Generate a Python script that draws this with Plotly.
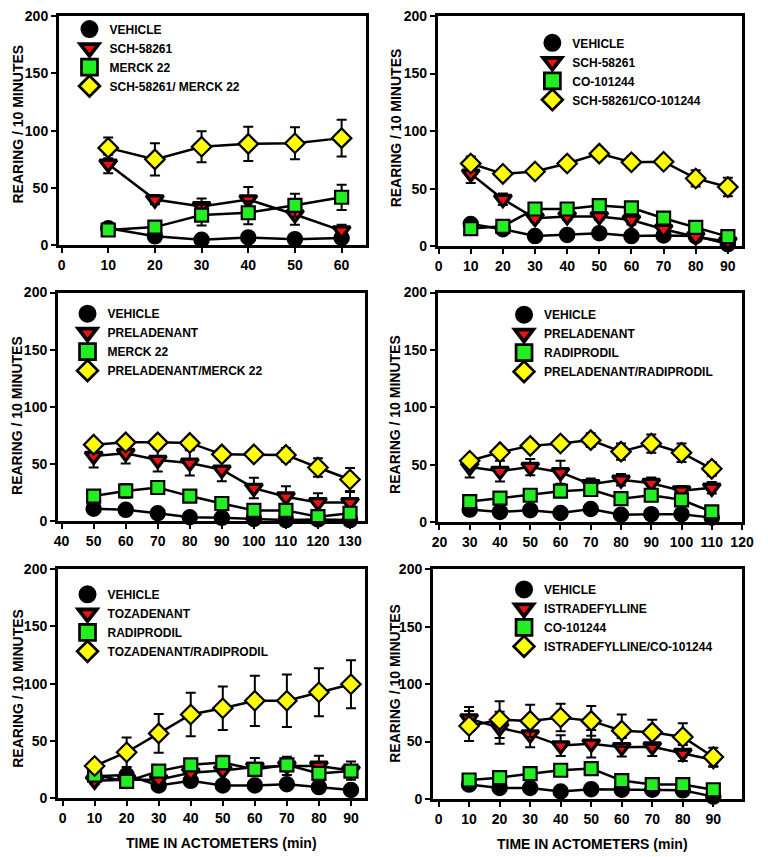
import plotly.graph_objects as go

W, H = 768, 857

# ---------------- DATA ----------------
# Panel 1: SCH-58261 / MERCK 22
t1 = [10, 20, 30, 40, 50, 60]
veh1 = [15, 8, 5, 7, 5.5, 6.5]
veh1_err = [2, 2, 1.5, 2, 1.5, 1.5]
sch1 = [71, 40, 34, 40, 27, 13]
sch1_err = [8, 4, 7, 11, 9, 5]
mrk1 = [13.5, 16, 26.5, 28.5, 35, 42]
mrk1_err = [2, 3, 9, 10, 10, 11]
comb1 = [85, 75, 86, 88.5, 89, 93.5]
comb1_err = [9, 14, 13.5, 15, 14, 16]

# Panel 2: SCH-58261 / CO-101244
t2 = [10, 20, 30, 40, 50, 60, 70, 80, 90]
veh2 = [19.5, 15, 9, 10, 11.5, 9, 9.5, 9, 2]
veh2_err = [3, 2, 2, 2, 3, 2, 2, 2, 1]
sch2 = [63, 41, 24.5, 26, 26, 23, 15, 8.5, 4]
sch2_err = [8, 5, 3, 3, 3, 4, 4, 3, 2]
co2 = [15.5, 17.5, 32.5, 32.5, 35.5, 33.5, 24.5, 16.5, 8.5]
co2_err = [3, 3, 4, 4, 4, 4, 4, 3, 2]
comb2 = [72, 63, 65, 72, 80.5, 73, 73.5, 59, 51.5]
comb2_err = [6, 3, 3, 4, 3, 5, 4, 7, 8]

# Panel 3: PRELADENANT / MERCK 22
t3 = [50, 60, 70, 80, 90, 100, 110, 120, 130]
veh3 = [11, 10, 7, 3.5, 3, 2, 1, 1.5, 1]
veh3_err = [2, 2, 2, 1, 2, 1, 1, 1, 1]
pre3 = [57, 59.5, 53.5, 51, 45, 29, 21.5, 16.5, 16.5]
pre3_err = [10, 9, 10, 11, 10, 9, 9, 8, 9]
mrk3 = [22, 26.5, 29.5, 22, 15.5, 9.5, 9.5, 4, 7]
mrk3_err = [5, 6, 5, 4, 4, 3, 3, 3, 3]
comb3 = [67, 69, 69, 68.5, 58.5, 58.5, 58, 47, 36.5]
comb3_err = [3, 3, 3, 3, 3, 3, 6, 8, 10]

# Panel 4: PRELADENANT / RADIPRODIL
t4 = [30, 40, 50, 60, 70, 80, 90, 100, 110]
veh4 = [11, 9, 10.5, 8, 11.5, 6.5, 7, 7, 4]
veh4_err = [2, 2, 2, 2, 2, 2, 2, 2, 1]
pre4 = [48, 44.5, 48, 43.5, 33, 37, 34, 27.5, 30]
pre4_err = [9, 9, 7, 10, 5, 5, 5, 4, 5]
rad4 = [18, 21, 23.5, 27, 28.5, 20.5, 23.5, 19.5, 9]
rad4_err = [4, 4, 4, 4, 4, 4, 4, 4, 3]
comb4 = [53.5, 61, 66.5, 68.5, 71.5, 61.5, 68.5, 60.5, 46.5]
comb4_err = [4, 3, 3, 4, 6, 7, 8, 8, 6]

# Panel 5: TOZADENANT / RADIPRODIL
t5 = [10, 20, 30, 40, 50, 60, 70, 80, 90]
veh5 = [19, 20, 11, 15, 11, 11, 12, 9.5, 7]
veh5_err = [3, 3, 2, 3, 2, 2, 2, 2, 2]
toz5 = [15, 16, 16, 22, 24, 27, 28, 28, 24]
toz5_err = [3, 4, 5, 7, 9, 8, 8, 9, 8]
rad5 = [20, 14.5, 23.5, 29, 31, 25, 29, 21.5, 23.5]
rad5_err = [3, 3, 4, 5, 6, 5, 5, 5, 5]
comb5 = [28, 40, 56.5, 73, 78.5, 85, 85, 92.5, 99.5]
comb5_err = [4, 13, 17, 19, 19, 22, 23, 21, 21]

# Panel 6: ISTRADEFYLLINE / CO-101244
t6 = [10, 20, 30, 40, 50, 60, 70, 80, 90]
veh6 = [12.5, 9.5, 9.5, 6.5, 8.5, 8, 8, 7.5, 2]
veh6_err = [2, 2, 2, 2, 3, 2, 2, 2, 1]
ist6 = [70, 62, 56, 46.5, 48, 45, 45.5, 40, 34]
ist6_err = [10, 14, 11, 9, 12, 8, 8, 7, 6]
co6 = [16.5, 18.5, 22, 25, 26.5, 16, 12.5, 12.5, 8]
co6_err = [3, 4, 4, 5, 5, 3, 3, 3, 2]
comb6 = [63.5, 69, 68, 71, 68, 59.5, 58, 54, 36.5]
comb6_err = [13, 16, 14, 12, 13, 14, 11, 12, 8]

y_ticks = [0, 50, 100, 150, 200]
y_title = "REARING / 10 MINUTES"
x_title = "TIME IN ACTOMETERS (min)"

panels = [
    dict(t=t1, series=[("VEHICLE", veh1, veh1_err), ("SCH-58261", sch1, sch1_err),
                       ("MERCK 22", mrk1, mrk1_err), ("SCH-58261/ MERCK 22", comb1, comb1_err)],
         xrange=[-0.6, 65.3], xdom=[54, 369], ydom=[8, 242], leg=(65, 6.7), ytitle=(12, 118), xtitle=None),
    dict(t=t2, series=[("VEHICLE", veh2, veh2_err), ("SCH-58261", sch2, sch2_err),
                       ("CO-101244", co2, co2_err), ("SCH-58261/CO-101244", comb2, comb2_err)],
         xrange=[-0.3, 94.5], xdom=[442, 754], ydom=[8, 243], leg=(539, 20.7), ytitle=(399, 122), xtitle=None),
    dict(t=t3, series=[("VEHICLE", veh3, veh3_err), ("PRELADENANT", pre3, pre3_err),
                       ("MERCK 22", mrk3, mrk3_err), ("PRELADENANT/MERCK 22", comb3, comb3_err)],
         xrange=[38.8, 134.8], xdom=[53, 368], ydom=[290, 523], leg=(63, 296.7), ytitle=(12, 415), xtitle=None),
    dict(t=t4, series=[("VEHICLE", veh4, veh4_err), ("PRELADENANT", pre4, pre4_err),
                       ("RADIPRODIL", rad4, rad4_err), ("PRELADENANT/RADIPRODIL", comb4, comb4_err)],
         xrange=[19.4, 120.1], xdom=[442, 754], ydom=[290, 524], leg=(510, 297.7), ytitle=(399, 414), xtitle=None),
    dict(t=t5, series=[("VEHICLE", veh5, veh5_err), ("TOZADENANT", toz5, toz5_err),
                       ("RADIPRODIL", rad5, rad5_err), ("TOZADENANT/RADIPRODIL", comb5, comb5_err)],
         xrange=[-1.5, 94.5], xdom=[53, 368], ydom=[572, 805], leg=(63, 582.7), ytitle=(12, 693), xtitle=(221, 851)),
    dict(t=t6, series=[("VEHICLE", veh6, veh6_err), ("ISTRADEFYLLINE", ist6, ist6_err),
                       ("CO-101244", co6, co6_err), ("ISTRADEFYLLINE/CO-101244", comb6, comb6_err)],
         xrange=[-1.9, 99.5], xdom=[437, 754], ydom=[572, 806], leg=(510, 577.7), ytitle=(399, 688), xtitle=(601, 852)),
]

styles = [
    dict(symbol="circle", color="black", size=15, lw=1.5),
    dict(symbol="triangle-down", color="#ee1111", size=15, lw=3.2),
    dict(symbol="square", color="#22ee22", size=13, lw=2.2),
    dict(symbol="diamond", color="#ffff00", size=15, lw=2.2),
]

FONT = "Arial, Liberation Sans, sans-serif"

fig = go.Figure()
layout = dict(width=W, height=H, margin=dict(l=0, r=0, t=0, b=0),
              paper_bgcolor="white", plot_bgcolor="white", showlegend=True,
              font=dict(family=FONT, color="black"))
annotations = []

for i, p in enumerate(panels):
    n = "" if i == 0 else str(i + 1)
    xa, ya = "x" + n, "y" + n
    legname = "legend" + n
    for k, (name, vals, errs) in enumerate(p["series"]):
        st = styles[k]
        fig.add_trace(go.Scatter(
            x=p["t"], y=vals, mode="lines+markers", xaxis=xa, yaxis=ya, showlegend=False,
            cliponaxis=False,
            line=dict(color="black", width=2.5),
            marker=dict(symbol=st["symbol"], color=st["color"], size=st["size"],
                        line=dict(color="black", width=st["lw"])),
            error_y=dict(type="data", array=errs, visible=True, color="black", thickness=2, width=5),
        ))
    for k, (name, vals, errs) in enumerate(p["series"]):
        st = styles[k]
        fig.add_trace(go.Scatter(
            x=[None], y=[None], mode="markers", xaxis=xa, yaxis=ya, name=name, legend=legname,
            marker=dict(symbol=st["symbol"], color=st["color"], size=st["size"] + 3,
                        line=dict(color="black", width=st["lw"] + 0.5)),
        ))
    axis_common = dict(showline=True, linecolor="black", linewidth=2.5, mirror=True,
                       ticks="outside", ticklen=5, tickwidth=2, tickcolor="black",
                       showgrid=False, zeroline=False,
                       tickfont=dict(family=FONT, size=14, color="black", weight="bold"))
    layout["xaxis" + n] = dict(axis_common, domain=[p["xdom"][0] / W, p["xdom"][1] / W],
                               range=p["xrange"], dtick=10, tick0=0, anchor=ya)
    layout["yaxis" + n] = dict(axis_common, domain=[1 - p["ydom"][1] / H, 1 - p["ydom"][0] / H],
                               range=[0, 200], tickvals=y_ticks, anchor=xa)
    layout[legname] = dict(x=p["leg"][0] / W, y=1 - p["leg"][1] / H, xanchor="left", yanchor="top",
                           bgcolor="rgba(0,0,0,0)", borderwidth=0,
                           font=dict(family=FONT, size=12, color="black", weight="bold"))
    annotations.append(dict(text="<b>" + y_title + "</b>", x=p["ytitle"][0] / W, y=1 - p["ytitle"][1] / H,
                            xref="paper", yref="paper", showarrow=False, textangle=-90,
                            font=dict(family=FONT, size=14, color="black"),
                            xanchor="center", yanchor="middle"))
    if p["xtitle"]:
        annotations.append(dict(text="<b>" + x_title + "</b>", x=p["xtitle"][0] / W, y=1 - p["xtitle"][1] / H,
                                xref="paper", yref="paper", showarrow=False,
                                font=dict(family=FONT, size=14, color="black"),
                                xanchor="center", yanchor="middle"))

layout["annotations"] = annotations
fig.update_layout(**layout)
fig.write_html("out.html", config={"displayModeBar": False},
               post_script="document.body.style.margin='0px';")
